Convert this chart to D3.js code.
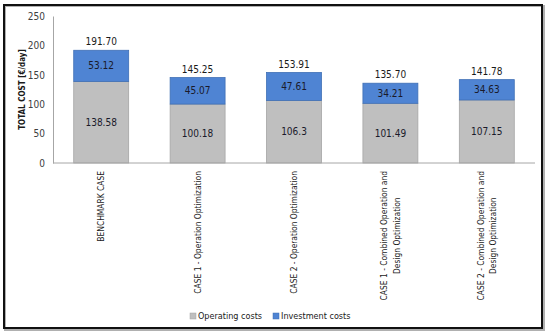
<!DOCTYPE html>
<html>
<head>
<meta charset="utf-8">
<script src="https://cdnjs.cloudflare.com/ajax/libs/d3/7.8.5/d3.min.js"></script>
<style>
  body { margin: 0; background: #fff; }
  svg { font-family: "DejaVu Sans Condensed", "Liberation Sans", sans-serif; }
</style>
</head>
<body>
<svg id="chart" width="550" height="336"></svg>
<script>
var categories = [
    ["BENCHMARK CASE"],
    ["CASE 1 - Operation Optimization"],
    ["CASE 2 - Operation Optimization"],
    ["CASE 1 - Combined Operation and", "Design Optimization"],
    ["CASE 2 - Combined Operation and", "Design Optimization"]
];
var operatingCosts = [138.58, 100.18, 106.3, 101.49, 107.15];
var investmentCosts = [53.12, 45.07, 47.61, 34.21, 34.63];
var yTicks = [0, 50, 100, 150, 200, 250];
var seriesNames = ["Operating costs", "Investment costs"];
var yTitle = "TOTAL COST [€/day]";

function drawChart() {
    var svg = d3.select("#chart"),
        margins = { top: 16, right: 15, bottom: 173, left: 53 },
        width = 550,
        height = 336,
        colors = ["#bfbfbf", "#4f84d3"],
        strokes = ["#a5a5a5", "#3f6fb5"];

    // outer frame
    svg.append("rect")
        .attr("x", 5).attr("y", 6).attr("width", 539).attr("height", 324)
        .attr("fill", "none").attr("stroke", "#b0b0b0").attr("stroke-width", 2);
    svg.append("rect")
        .attr("x", 4).attr("y", 5).attr("width", 538).attr("height", 323)
        .attr("fill", "none").attr("stroke", "#111").attr("stroke-width", 2);

    var rows = categories.map(function (c, i) {
        return { idx: i, op: operatingCosts[i], inv: investmentCosts[i] };
    });

    var xRange = d3.scaleBand()
        .domain(d3.range(categories.length))
        .range([margins.left, width - margins.right])
        .paddingInner(0.43)
        .paddingOuter(0.215);

    var yRange = d3.scaleLinear()
        .domain([0, 250])
        .range([height - margins.bottom, margins.top]);

    var yAxis = d3.axisLeft(yRange).tickValues(yTicks).tickSize(0).tickPadding(8);
    var yg = svg.append("g")
        .attr("transform", "translate(" + margins.left + ",0)")
        .call(yAxis);
    yg.select(".domain").attr("stroke", "#a6a6a6");
    yg.selectAll("text").attr("font-size", 10).attr("fill", "#404040")
        .attr("font-family", "DejaVu Sans Condensed, sans-serif");

    var stack = d3.stack().keys(["op", "inv"])(rows);

    stack.forEach(function (layer, k) {
        svg.append("g").selectAll("rect")
            .data(layer)
            .enter().append("rect")
            .attr("x", function (d) { return xRange(d.data.idx); })
            .attr("width", xRange.bandwidth())
            .attr("y", function (d) { return yRange(d[1]); })
            .attr("height", function (d) { return yRange(d[0]) - yRange(d[1]); })
            .attr("fill", colors[k])
            .attr("stroke", strokes[k])
            .attr("stroke-width", 0.8);

        svg.append("g").selectAll("text")
            .data(layer)
            .enter().append("text")
            .attr("x", function (d) { return xRange(d.data.idx) + xRange.bandwidth() / 2; })
            .attr("y", function (d) { return (yRange(d[0]) + yRange(d[1])) / 2; })
            .attr("dy", "0.35em")
            .attr("text-anchor", "middle")
            .attr("font-size", 10)
            .attr("fill", "#1a1a2a")
            .text(function (d) { return String(k === 0 ? d.data.op : d.data.inv); });
    });

    // totals above the bars
    svg.append("g").selectAll("text")
        .data(rows)
        .enter().append("text")
        .attr("x", function (d) { return xRange(d.idx) + xRange.bandwidth() / 2; })
        .attr("y", function (d) { return yRange(d.op + d.inv) - 5; })
        .attr("text-anchor", "middle")
        .attr("font-size", 10)
        .attr("fill", "#1a1a1a")
        .text(function (d) { return (d.op + d.inv).toFixed(2); });

    // x axis line
    svg.append("line")
        .attr("x1", margins.left).attr("x2", width - margins.right)
        .attr("y1", yRange(0)).attr("y2", yRange(0))
        .attr("stroke", "#a6a6a6");

    // rotated category labels
    var labelTop = yRange(0) + 8;
    categories.forEach(function (lines, i) {
        var cx = xRange(i) + xRange.bandwidth() / 2;
        var g = svg.append("g");
        var texts = lines.map(function (line) {
            return g.append("text")
                .attr("font-size", 8.4)
                .attr("fill", "#1a1a1a")
                .attr("text-anchor", "middle")
                .text(line);
        });
        var maxLen = d3.max(texts, function (t) { return t.node().getComputedTextLength(); });
        var cy = labelTop + maxLen / 2;
        texts.forEach(function (t, j) {
            var off = (j - (lines.length - 1) / 2) * 12.5;
            t.attr("transform", "translate(" + (cx + off) + "," + cy + ") rotate(-90)")
                .attr("dy", "0.35em");
        });
    });

    // y axis title
    svg.append("text")
        .attr("transform", "translate(22," + yRange(125) + ") rotate(-90)")
        .attr("text-anchor", "middle")
        .attr("dy", "0.35em")
        .attr("font-size", 8)
        .attr("font-weight", "bold")
        .attr("fill", "#1a1a1a")
        .text(yTitle);

    // legend
    var legend = svg.append("g");
    var lx = [190, 273];
    seriesNames.forEach(function (name, k) {
        legend.append("rect")
            .attr("x", lx[k]).attr("y", 313).attr("width", 6).attr("height", 6)
            .attr("fill", colors[k]).attr("stroke", strokes[k]).attr("stroke-width", 0.5);
        legend.append("text")
            .attr("x", lx[k] + 8).attr("y", 316)
            .attr("dy", "0.35em")
            .attr("font-size", 9)
            .attr("fill", "#1a1a1a")
            .text(name);
    });
}

drawChart();
</script>
</body>
</html>
